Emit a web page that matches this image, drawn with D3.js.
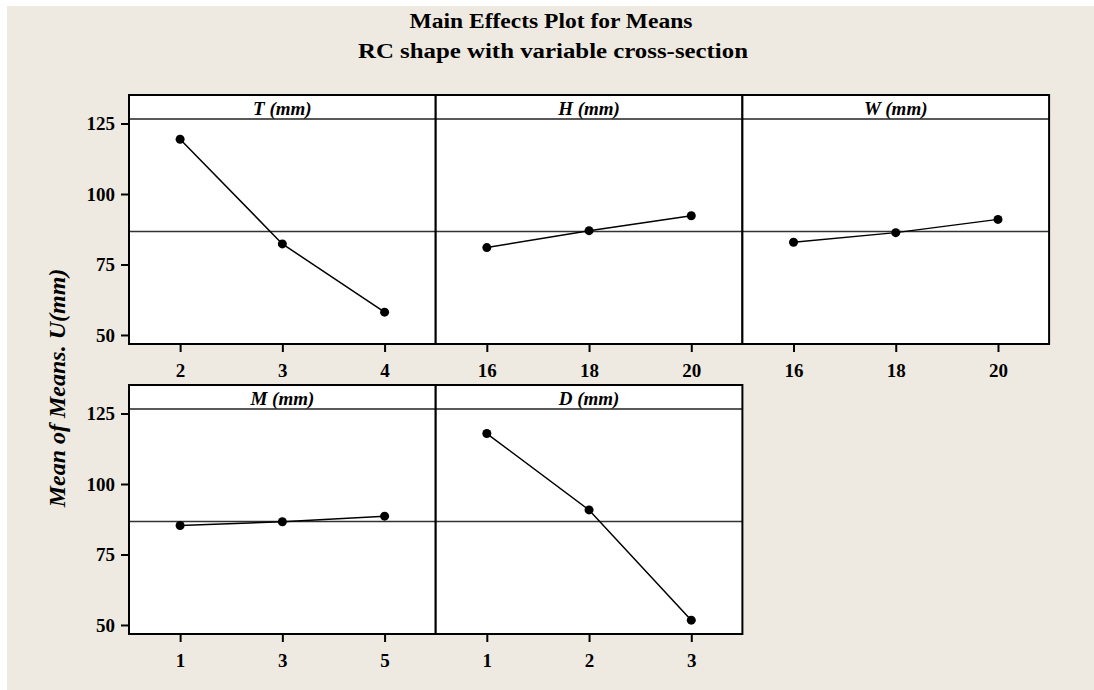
<!DOCTYPE html>
<html>
<head>
<meta charset="utf-8">
<script src="https://cdn.jsdelivr.net/npm/d3@7"></script>
<style>
  body { margin: 0; background: #fff; }
  svg text { font-family: "Liberation Serif", "Times New Roman", serif; font-weight: bold; }
</style>
</head>
<body>
<svg id="chart" width="1094" height="690"></svg>
<script>
// main effects data
var factors = ["T (mm)", "H (mm)", "W (mm)", "M (mm)", "D (mm)"];
var levels = [[2, 3, 4], [16, 18, 20], [16, 18, 20], [1, 3, 5], [1, 2, 3]];
var means = [
  [119.4, 82.3, 58.1],
  [81.0, 87.0, 92.3],
  [82.9, 86.3, 91.0],
  [85.3, 86.6, 88.6],
  [117.9, 90.8, 51.7]
];
var grandMean = 86.7;
var yTicks = [50, 75, 100, 125];

var svg = d3.select("#chart");

// beige background
svg.append("rect")
  .attr("x", 7).attr("y", 6)
  .attr("width", 1087).attr("height", 684)
  .attr("fill", "#eeeae1");

// titles
svg.append("text")
  .attr("x", 551).attr("y", 28)
  .attr("text-anchor", "middle")
  .attr("font-size", 20)
  .attr("textLength", 283)
  .attr("lengthAdjust", "spacingAndGlyphs")
  .text("Main Effects Plot for Means");
svg.append("text")
  .attr("x", 553).attr("y", 58)
  .attr("text-anchor", "middle")
  .attr("font-size", 20)
  .attr("textLength", 390)
  .attr("lengthAdjust", "spacingAndGlyphs")
  .text("RC shape with variable cross-section");

// y axis title
svg.append("text")
  .attr("transform", "translate(65,388) rotate(-90)")
  .attr("text-anchor", "middle")
  .attr("font-size", 24)
  .attr("font-style", "italic")
  .text("Mean of Means. U(mm)");

var panelW = 306.7;
var left = 129;
var rowTops = [95, 385];
var stripH = 24;
var plotH = 225;

var y = d3.scaleLinear().domain([46.8, 126.6]);

factors.forEach(function(f, i) {
  var row = Math.floor(i / 3);
  var col = i % 3;
  var x0 = left + col * panelW;
  var top = rowTops[row];
  var plotTop = top + stripH;
  var plotBottom = plotTop + plotH;

  y.range([plotBottom, plotTop]);
  var x = d3.scalePoint()
    .domain(levels[i])
    .range([x0, x0 + panelW])
    .padding(0.5);

  var g = svg.append("g");

  // panel background
  g.append("rect")
    .attr("x", x0).attr("y", top)
    .attr("width", panelW).attr("height", stripH + plotH)
    .attr("fill", "#fff");

  // reference line at the grand mean
  g.append("line")
    .attr("x1", x0).attr("x2", x0 + panelW)
    .attr("y1", y(grandMean)).attr("y2", y(grandMean))
    .attr("stroke", "#333").attr("stroke-width", 1.5);

  // means line and points
  var pts = levels[i].map(function(l, j) { return [x(l), y(means[i][j])]; });
  g.append("path")
    .attr("d", d3.line()(pts))
    .attr("fill", "none")
    .attr("stroke", "#000").attr("stroke-width", 1.5);
  g.selectAll("circle")
    .data(pts)
    .enter()
    .append("circle")
    .attr("cx", function(d) { return d[0]; })
    .attr("cy", function(d) { return d[1]; })
    .attr("r", 4.5)
    .attr("fill", "#000");

  // strip
  g.append("line")
    .attr("x1", x0).attr("x2", x0 + panelW)
    .attr("y1", plotTop).attr("y2", plotTop)
    .attr("stroke", "#222").attr("stroke-width", 1.5);
  g.append("text")
    .attr("x", x0 + panelW / 2).attr("y", top + 20)
    .attr("text-anchor", "middle")
    .attr("font-size", 19)
    .attr("font-style", "italic")
    .text(f);

  // border
  g.append("rect")
    .attr("x", x0).attr("y", top)
    .attr("width", panelW).attr("height", stripH + plotH)
    .attr("fill", "none")
    .attr("stroke", "#000").attr("stroke-width", 2);

  // x axis
  var xAxis = g.append("g")
    .attr("transform", "translate(0," + plotBottom + ")")
    .call(d3.axisBottom(x).tickSize(8).tickPadding(12));
  xAxis.select(".domain").remove();
  xAxis.selectAll("line").attr("stroke", "#000").attr("stroke-width", 2);
  xAxis.selectAll("text")
    .attr("font-size", 19)
    .attr("fill", "#000")
    .attr("font-family", "Liberation Serif, serif");

  // y axis only on first column
  if (col == 0) {
    var yAxis = g.append("g")
      .attr("transform", "translate(" + x0 + ",0)")
      .call(d3.axisLeft(y).tickValues(yTicks).tickSize(8).tickPadding(6));
    yAxis.select(".domain").remove();
    yAxis.selectAll("line").attr("stroke", "#000").attr("stroke-width", 2);
    yAxis.selectAll("text")
      .attr("font-size", 19)
      .attr("fill", "#000")
      .attr("font-family", "Liberation Serif, serif");
  }
});
</script>
</body>
</html>
